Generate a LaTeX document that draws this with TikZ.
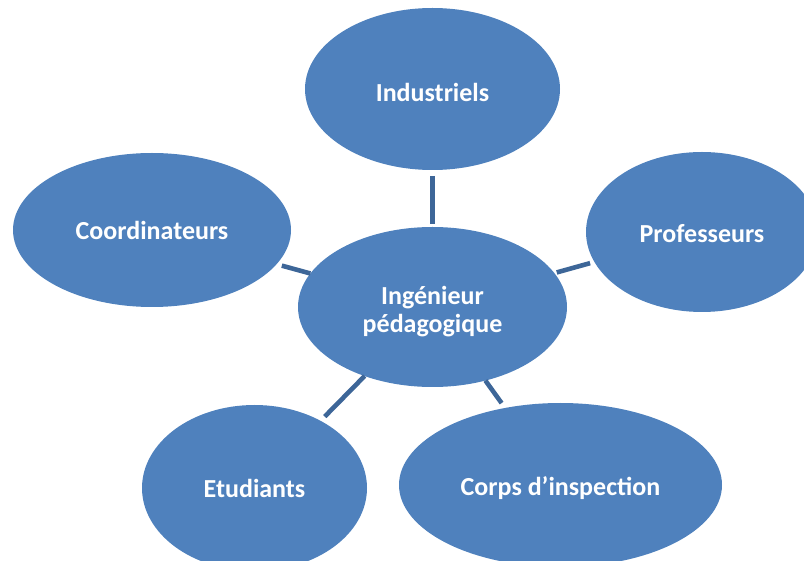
\documentclass[tikz,border=0pt]{standalone}
\usepackage{fontspec}
\setmainfont{Carlito}
\usetikzlibrary{shapes.geometric}
\definecolor{ovalblue}{HTML}{4F81BD}
\definecolor{linkblue}{HTML}{3D6698}
\newcommand{\lowertext}[2]{\raisebox{-#1}[\height][\depth]{#2}}
\tikzset{
  oval/.style={ellipse, fill=ovalblue, draw=none, inner sep=0pt, outer sep=0pt,
    text=white, font=\fontsize{26}{28}\selectfont\bfseries, align=center},
  link/.style={draw=linkblue, line width=4.6pt}
}
\begin{document}
\begin{tikzpicture}[x=1pt,y=1pt]
\useasboundingbox (0,0) rectangle (804,-561);
\node[oval, minimum width=255pt, minimum height=162pt] (ind) at (432.5,-89) {\lowertext{3pt}{Industriels}};
\node[oval, minimum width=278pt, minimum height=154pt] (coo) at (152,-230) {Coordinateurs};
\node[oval, minimum width=232pt, minimum height=160pt] (pro) at (702,-232) {\lowertext{2pt}{Professeurs}};
\node[oval, minimum width=269pt, minimum height=160pt] (cen) at (432.5,-307) {\lowertext{6pt}{\begin{tabular}{@{}c@{}}Ingénieur\\pédagogique\end{tabular}}};
\node[oval, minimum width=225pt, minimum height=166pt] (etu) at (254.5,-488) {Etudiants};
\node[oval, minimum width=323pt, minimum height=164pt] (cor) at (560.5,-485) {\lowertext{3pt}{Corps d’inspection}};
\draw[link, shorten <=6pt, shorten >=3pt] (ind) -- (cen);
\draw[link, shorten <=5.5pt, shorten >=0pt] (coo) -- (cen);
\draw[link, shorten <=4.5pt, shorten >=2.5pt] (pro) -- (cen);
\draw[link, shorten <=6pt, shorten >=0pt] (etu) -- (cen);
\draw[link, shorten <=6pt, shorten >=0pt] (cor) -- (cen);
\end{tikzpicture}
\end{document}
